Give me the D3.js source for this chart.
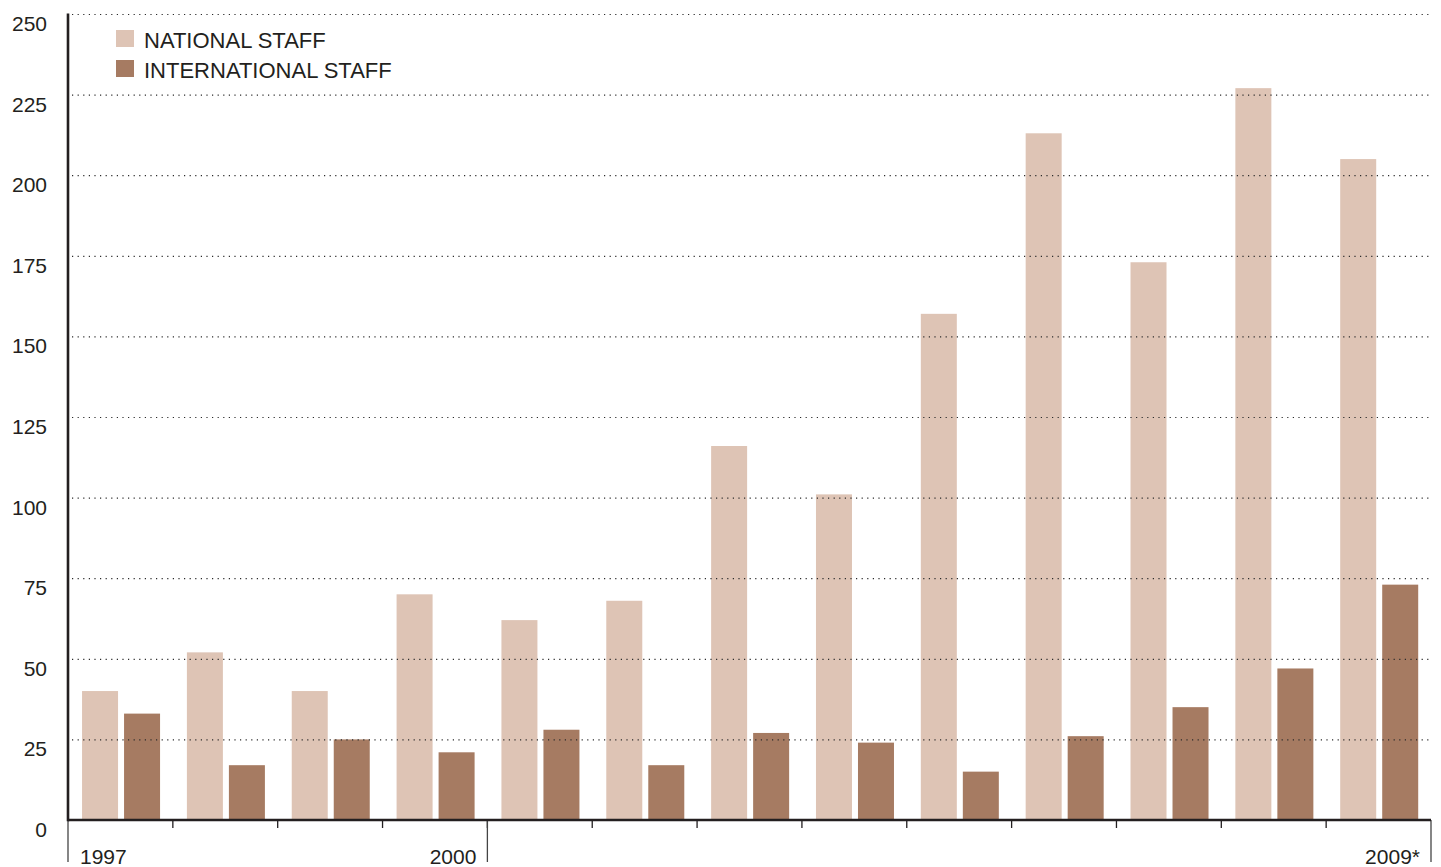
<!DOCTYPE html>
<html>
<head>
<meta charset="utf-8">
<script src="https://cdn.jsdelivr.net/npm/d3@7"></script>
<style>
  body { margin: 0; background: #fff; }
  svg { display: block; font-family: "Liberation Sans", Arial, sans-serif; }
  .grid line { stroke: #2a2a2a; stroke-width: 1.2; stroke-dasharray: 1.2 4.4; }
  .grid .domain { display: none; }
  .tick-label { font-size: 21px; fill: #231f20; }
  .legend-label { font-size: 22px; fill: #231f20; }
</style>
</head>
<body>
<div id="graph"></div>
<script>
const years = ["1997", "1998", "1999", "2000", "2001", "2002", "2003",
  "2004", "2005", "2006", "2007", "2008", "2009"];
const national = [40, 52, 40, 70, 62, 68, 116, 101, 157, 213, 173, 227, 205];
const international = [33, 17, 25, 21, 28, 17, 27, 24, 15, 26, 35, 47, 73];
const series = ["NATIONAL STAFF", "INTERNATIONAL STAFF"];
const yTicks = [0, 25, 50, 75, 100, 125, 150, 175, 200, 225, 250];
// only some years get a label, with a long divider line at these edges
const yearLabels = [
  { year: "1997", side: "start" },
  { year: "2000", side: "end" },
  { year: "2009", side: "end", text: "2009*" }
];
const dividers = ["1997", "2001"];

const config = {
  width: 1441,
  height: 867,
  left: 68,
  right: 1431,
  top: 14,
  bottom: 820
};
const colors = ["#dec4b5", "#a67b62"];

const svg = d3.select("#graph")
  .append("svg")
  .attr("width", config.width)
  .attr("height", config.height);

const x = d3.scaleBand()
  .domain(years)
  .range([config.left, config.right])
  .padding(0);

const xInner = d3.scaleBand()
  .domain(series)
  .range([x.bandwidth() * 0.134, x.bandwidth() * 0.878])
  .paddingInner(0.143);

const y = d3.scaleLinear()
  .domain([0, 250])
  .range([config.bottom, config.top]);

const rows = years.map((year, i) => ({
  year,
  values: [
    { key: series[0], value: national[i] },
    { key: series[1], value: international[i] }
  ]
}));

// bars
const groups = svg.append("g")
  .selectAll("g")
  .data(rows)
  .join("g")
  .attr("transform", d => `translate(${x(d.year)},0)`);

groups.selectAll("rect")
  .data(d => d.values)
  .join("rect")
  .attr("x", d => xInner(d.key))
  .attr("y", d => y(d.value))
  .attr("width", xInner.bandwidth())
  .attr("height", d => y(0) - y(d.value))
  .attr("fill", (d, i) => colors[i]);

// dotted gridlines sit on top of the bars
svg.append("g")
  .attr("class", "grid")
  .attr("transform", `translate(${config.left + 4},0)`)
  .call(d3.axisLeft(y)
    .tickValues(yTicks.filter(t => t > 0))
    .tickSize(-(config.right - config.left - 4))
    .tickFormat(""));

// y tick labels
svg.append("g")
  .selectAll("text")
  .data(yTicks)
  .join("text")
  .attr("class", "tick-label")
  .attr("x", 47)
  .attr("y", d => y(d) + 17)
  .attr("text-anchor", "end")
  .text(d => d);

// small ticks at year boundaries
svg.append("g")
  .selectAll("line")
  .data(years.slice(1))
  .join("line")
  .attr("x1", d => x(d))
  .attr("x2", d => x(d))
  .attr("y1", config.bottom)
  .attr("y2", config.bottom + 8)
  .attr("stroke", "#231f20")
  .attr("stroke-width", 1.3);

// long dividers
const dividerX = dividers.map(d => x(d)).concat([config.right]);
svg.append("g")
  .selectAll("line")
  .data(dividerX)
  .join("line")
  .attr("x1", d => d)
  .attr("x2", d => d)
  .attr("y1", config.bottom)
  .attr("y2", 862)
  .attr("stroke", "#444")
  .attr("stroke-width", 1.3);

// axis lines
svg.append("line")
  .attr("x1", config.left)
  .attr("x2", config.left)
  .attr("y1", config.top - 0.5)
  .attr("y2", config.bottom + 1.25)
  .attr("stroke", "#231f20")
  .attr("stroke-width", 2.6);

svg.append("line")
  .attr("x1", config.left)
  .attr("x2", config.right)
  .attr("y1", config.bottom)
  .attr("y2", config.bottom)
  .attr("stroke", "#231f20")
  .attr("stroke-width", 2.6);

// year labels
svg.append("g")
  .selectAll("text")
  .data(yearLabels)
  .join("text")
  .attr("class", "tick-label")
  .attr("x", d => d.side === "start" ? x(d.year) + 12 : x(d.year) + x.bandwidth() - 11)
  .attr("y", 864)
  .attr("text-anchor", d => d.side)
  .text(d => d.text || d.year);

// legend
const legend = svg.append("g")
  .selectAll("g")
  .data(series)
  .join("g")
  .attr("transform", (d, i) => `translate(116,${30 + i * 30})`);

legend.append("rect")
  .attr("width", 18)
  .attr("height", 17)
  .attr("fill", (d, i) => colors[i]);

legend.append("text")
  .attr("class", "legend-label")
  .attr("x", 28)
  .attr("y", 17.5)
  .text(d => d);
</script>
</body>
</html>
